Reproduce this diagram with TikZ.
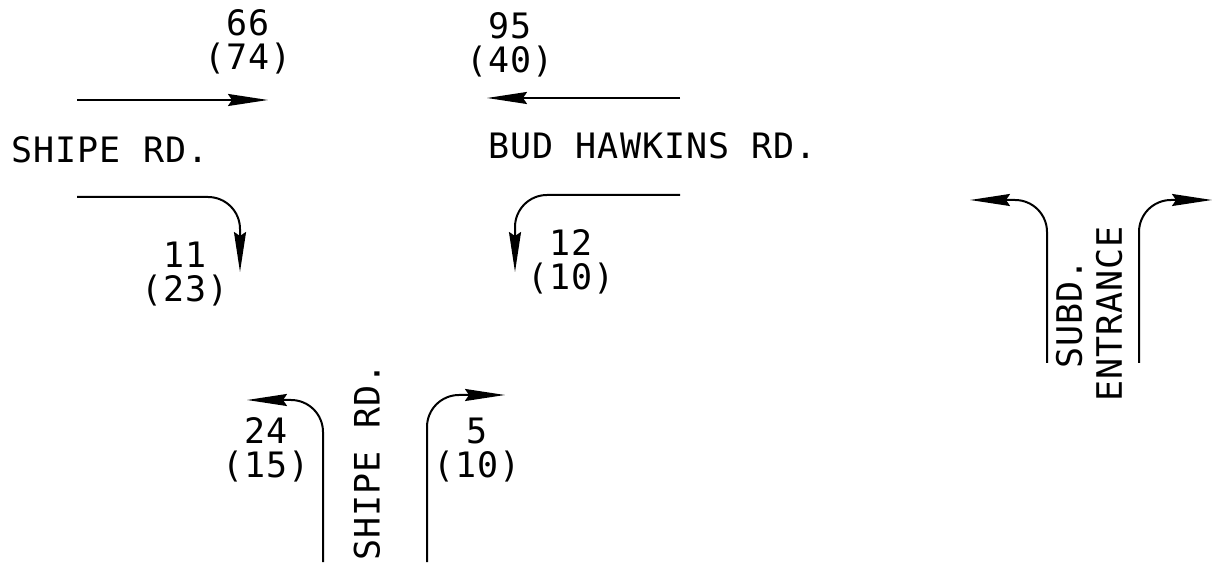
\documentclass[tikz,border=0pt]{standalone}
\usepackage{fontspec}
\usepackage{tikz}
\usetikzlibrary{arrows.meta, positioning}
\newfontfamily\plotfont[LetterSpace=3]{DejaVu Sans Mono}
\tikzset{
  roadname/.style={font=\plotfont\fontsize{17.5pt}{20pt}\selectfont,
    inner sep=0pt, align=center},
  volume/.style={font=\plotfont\fontsize{17.5pt}{17pt}\selectfont,
    inner sep=0pt, align=center},
  move/.style={line width=1pt, -{Stealth[length=20pt, width=6pt, inset=2pt]}},
  turn/.style={move, rounded corners=16pt}
}

\begin{document}
\begin{tikzpicture}[x=0.5pt, y=-0.5pt]
  \useasboundingbox (0,0) rectangle (1213,565);

  % Road names
  \node[roadname, anchor=west] (shipew) at (11,150) {SHIPE RD.};
  \node[roadname, anchor=west] (bud) at (488,146) {BUD HAWKINS RD.};
  \node[roadname, rotate=90] (shipes) at (367,462) {SHIPE RD.};
  \node[roadname, rotate=90] (subd) at (1089,314) {SUBD.\\ENTRANCE};

  % Volumes
  \node[volume] (ebth) at (248,42) {66\\(74)};
  \node[volume] (wbth) at (510,45) {95\\(40)};
  \node[volume] (ebrt) at (185,274) {11\\(23)};
  \node[volume] (wblt) at (571,262) {12\\(10)};
  \node[volume] (nblt) at (266,450) {24\\(15)};
  \node[volume] (nbrt) at (477,450) {5\\(10)};

  % Arrow ends
  \coordinate (ebthA) at (77,100);   \coordinate (ebthB) at (268,100);
  \coordinate (wbthA) at (680,98);   \coordinate (wbthB) at (487,98);
  \coordinate (ebrtA) at (77,197);   \coordinate (ebrtB) at (240,272);
  \coordinate (wbltA) at (680,195);  \coordinate (wbltB) at (515,272);
  \coordinate (nbltA) at (323,562);  \coordinate (nbltB) at (247,400);
  \coordinate (nbrtA) at (427,562);  \coordinate (nbrtB) at (505,395);
  \coordinate (sbltA) at (1047,363); \coordinate (sbltB) at (970,200);
  \coordinate (sbrtA) at (1139,363); \coordinate (sbrtB) at (1212,200);

  % Arrows
  \draw[move] (ebthA) -- (ebthB);
  \draw[move] (wbthA) -- (wbthB);
  \draw[turn] (ebrtA) -| (ebrtB);
  \draw[turn] (wbltA) -| (wbltB);
  \draw[turn] (nbltA) |- (nbltB);
  \draw[turn] (nbrtA) |- (nbrtB);
  \draw[turn] (sbltA) |- (sbltB);
  \draw[turn] (sbrtA) |- (sbrtB);
\end{tikzpicture}
\end{document}
